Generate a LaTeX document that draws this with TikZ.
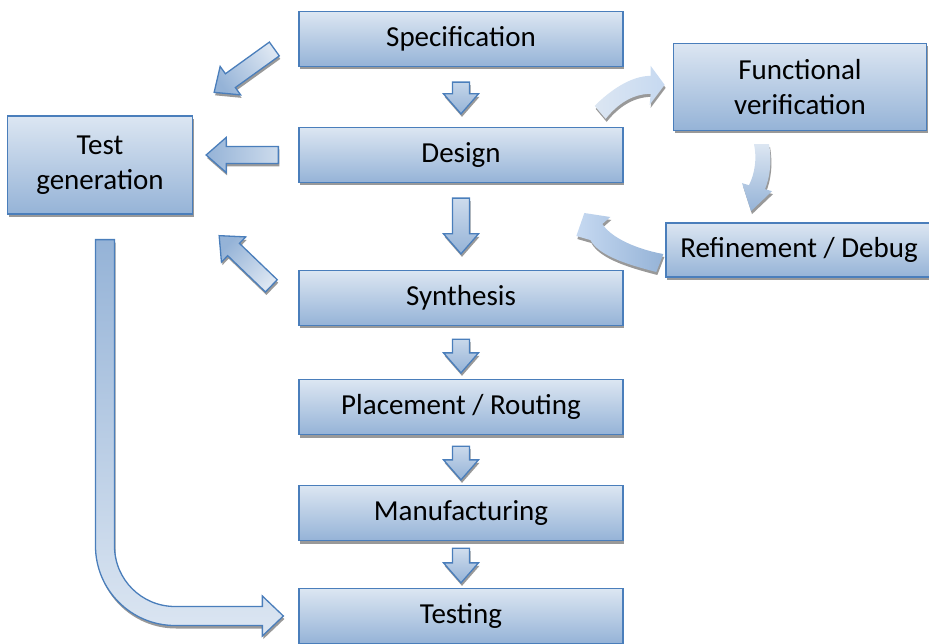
\documentclass[tikz,border=0pt]{standalone}
\usepackage{fontspec}
\setmainfont{Carlito}
\usetikzlibrary{calc,shadows}

\definecolor{boxtop}{RGB}{220,230,242}
\definecolor{boxbot}{RGB}{149,179,215}
\definecolor{boxline}{RGB}{74,126,187}
\definecolor{curvlight}{RGB}{198,217,241}

% sizes of the straight block arrows
\newcommand\baW{8.5pt}
\newcommand\baH{17.5pt}
\newcommand\baL{20pt}

\tikzset{
  ba from/.store in=\baFrom, ba to/.store in=\baTo,
  ba from=0pt, ba to=0pt,
  shade/.style={drop shadow={shadow xshift=1pt, shadow yshift=-3pt, fill=black!40, opacity=1}},
  blockarrow/.style={draw=boxline, line width=1.3pt, shade, to path={
    ($(\tikztostart)!\baFrom!(\tikztotarget)$) coordinate (ba-s)
    ($(\tikztotarget)!\baTo!(\tikztostart)$) coordinate (ba-t)
    ($(ba-t)!\baL!(ba-s)$) coordinate (ba-h)
    ($(ba-s)!\baW!90:(ba-t)$) -- ($(ba-h)!\baW!-90:(ba-s)$)
    -- ($(ba-h)!\baH!-90:(ba-s)$) -- (ba-t)
    -- ($(ba-h)!\baH!90:(ba-s)$) -- ($(ba-h)!\baW!90:(ba-s)$)
    -- ($(ba-s)!\baW!-90:(ba-t)$) -- cycle}}
}

\begin{document}
\begin{tikzpicture}[x=1pt, y=-1pt,
  stage/.style={rectangle, draw=boxline, line width=1.3pt, top color=boxtop, bottom color=boxbot,
    minimum width=324pt, minimum height=55pt, inner sep=0pt, align=center,
    font=\fontsize{29}{35}\selectfont, shade},
  down/.style={blockarrow, top color=boxtop, bottom color=boxbot}]
  \useasboundingbox (0,0) rectangle (929,644);

  % Main flow
  \node[stage] (spec)    at (461,39)  {Specification};
  \node[stage] (design)  at (461,155) {Design};
  \node[stage] (synth)   at (461,298) {Synthesis};
  \node[stage] (place)   at (461,407) {Placement / Routing};
  \node[stage] (manuf)   at (461,513) {Manufacturing};
  \node[stage] (testing) at (461,616) {Testing};

  % Side boxes
  \node[stage, minimum width=185pt, minimum height=98pt] (testgen) at (100,165) {Test\\generation};
  \node[stage, minimum width=253pt, minimum height=87pt] (funcver) at (800,87) {Functional\\verification};
  \node[stage, minimum width=266pt, minimum height=54pt] (refine)  at (799,250) {Refinement / Debug};

  % Down arrows
  \path[down, ba from=15pt, ba to=13pt] (spec.south) to (design.north);
  \path[down, ba from=15pt, ba to=16pt] (design.south) to (synth.north);
  \path[down, ba from=13pt, ba to=6pt]  (synth.south) to (place.north);
  \path[down, ba from=11pt, ba to=5pt]  (place.south) to (manuf.north);
  \path[down, ba from=7pt,  ba to=5pt]  (manuf.south) to (testing.north);

  % Arrows into test generation
  \coordinate (sp-out) at ($(spec.west)+(-24,10)$);
  \coordinate (tg-in1) at ($(testgen.north east)+(21,-23)$);
  \coordinate (sy-out) at ($(synth.north west)+(-27,16)$);
  \coordinate (tg-in3) at ($(testgen.south east)+(26,21)$);
  \path[blockarrow, top color=boxtop, bottom color=boxbot, shading angle=-54] (sp-out) to (tg-in1);
  \path[blockarrow, left color=boxbot, right color=boxtop, ba from=20pt, ba to=13pt]
    (design.west) to (design.west -| testgen.east);
  \path[blockarrow, top color=boxtop, bottom color=boxbot, shading angle=-134] (sy-out) to (tg-in3);

  % Test generation to testing
  \coordinate (tg-out) at ($(testgen.south)+(5,25)$);
  \coordinate (ts-in) at ($(testing.west)+(-15,0)$);
  \coordinate (cn) at (tg-out |- ts-in);
  \path[draw=boxline, line width=1.3pt, top color=boxbot, bottom color=boxtop, shade]
    ($(tg-out)+(-9.5,0)$) -- ($(cn)+(-9.5,-70)$)
    .. controls +(0,43.9) and +(-43.9,0) .. ($(cn)+(70,9.5)$)
    -- ($(ts-in)+(-21,9.5)$) -- ($(ts-in)+(-21,20)$) -- (ts-in)
    -- ($(ts-in)+(-21,-20)$) -- ($(ts-in)+(-21,-9.5)$) -- ($(cn)+(70,-9.5)$)
    .. controls +(-33.4,0) and +(0,33.4) .. ($(cn)+(9.5,-70)$)
    -- ($(tg-out)+(9.5,0)$) -- cycle;

  % Verification loop
  \path[shift={(design.north east)}, left color=boxtop, right color=curvlight, shade]
    (-29,-21) .. controls (-14,-36) and (7,-51) .. (27,-51) -- (27,-61) -- (41,-42)
    -- (26,-22) -- (27,-33) .. controls (9,-33) and (-6,-23) .. (-18,-8) -- cycle;
  \path[shift={(funcver.south)}, top color=boxtop, bottom color=boxbot, shade]
    (-46,13) -- (-31,13) .. controls (-28,30) and (-30,46) .. (-35,58) -- (-28,60)
    -- (-49,80) -- (-58,52) -- (-51,54) .. controls (-45,42) and (-43,27) .. (-46,13) -- cycle;
  \path[shift={(refine.west)}, left color=curvlight, right color=boxbot, shade]
    (-81,-37) -- (-55,-33) -- (-63,-26) .. controls (-52,-9) and (-20,1) .. (-2,4)
    -- (-9,22) .. controls (-32,16) and (-66,7) .. (-75,-10) -- (-89,-14) -- cycle;
\end{tikzpicture}
\end{document}
